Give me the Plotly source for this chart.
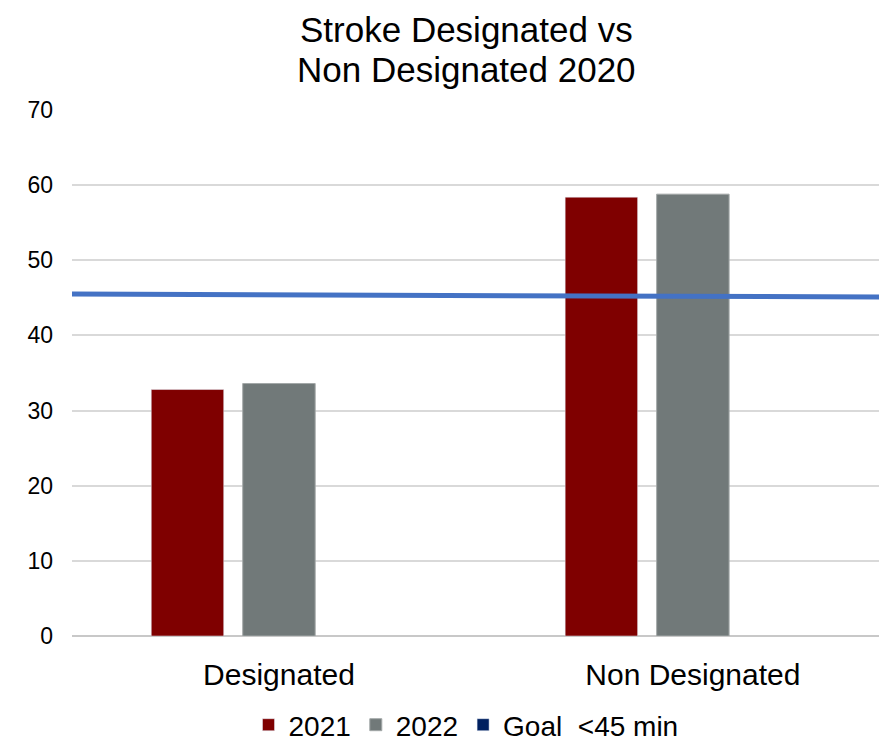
import plotly.graph_objects as go

categories = ["Designated", "Non Designated"]
values_2021 = [32.8, 58.4]
values_2022 = [33.6, 58.8]
goal_values = [45.5, 45.1]
goal_label = "Goal  <45 min"
title_lines = ["Stroke Designated vs", "Non Designated 2020"]

# page body has an 8px default margin; the figure is sized to fit inside the window
W, H = 879, 733
L, T, B = 64, 102, 105
PW, PH = W - L, H - T - B

fig = go.Figure()
fig.add_trace(go.Bar(x=categories, y=values_2021, name="2021", marker_color="#7F0000"))
fig.add_trace(go.Bar(x=categories, y=values_2022, name="2022", marker_color="#717979",
                     marker_line=dict(color="#A3A8A8", width=1)))
fig.add_trace(go.Bar(x=categories, y=[None, None], name=goal_label, marker_color="#002060"))
fig.add_trace(go.Scatter(x=categories, y=goal_values, mode="lines", xaxis="x2",
                         line=dict(color="#4472C4", width=5), showlegend=False))

for line_text, top_px in zip(title_lines, [0, 39.5]):
    fig.add_annotation(text=line_text, xref="paper", yref="paper",
                       x=(458 - L) / PW, y=1 + (T - top_px) / PH,
                       xanchor="center", yanchor="top", showarrow=False,
                       font=dict(size=35, family="Liberation Sans, Arial, sans-serif",
                                 color="#000000"))

fig.update_layout(
    width=W, height=H,
    margin=dict(l=L, r=0, t=T, b=B, autoexpand=False),
    plot_bgcolor="white", paper_bgcolor="white",
    font=dict(family="Liberation Sans, Arial, sans-serif", color="#000000"),
    barmode="group", bargap=0.337, bargroupgap=0.208,
    xaxis=dict(type="category", range=[-0.5, 1.469], showgrid=False, showline=False,
               ticks="", tickfont=dict(size=30), ticklabelstandoff=18),
    xaxis2=dict(type="category", overlaying="x", range=[0, 0.984], visible=False),
    yaxis=dict(range=[0, 70], dtick=10, showgrid=True, gridcolor="#D9D9D9", gridwidth=1.5,
               zeroline=True, zerolinecolor="#C8C8C8", zerolinewidth=2,
               showline=False, ticks="", tickfont=dict(size=23), ticklabelstandoff=18),
    legend=dict(orientation="h", x=(458 - L) / PW, xanchor="center", xref="paper",
                y=-(717 - (H - B)) / PH, yref="paper", yanchor="middle",
                font=dict(size=28), itemwidth=30, traceorder="normal"),
)

fig.write_html("out.html")
